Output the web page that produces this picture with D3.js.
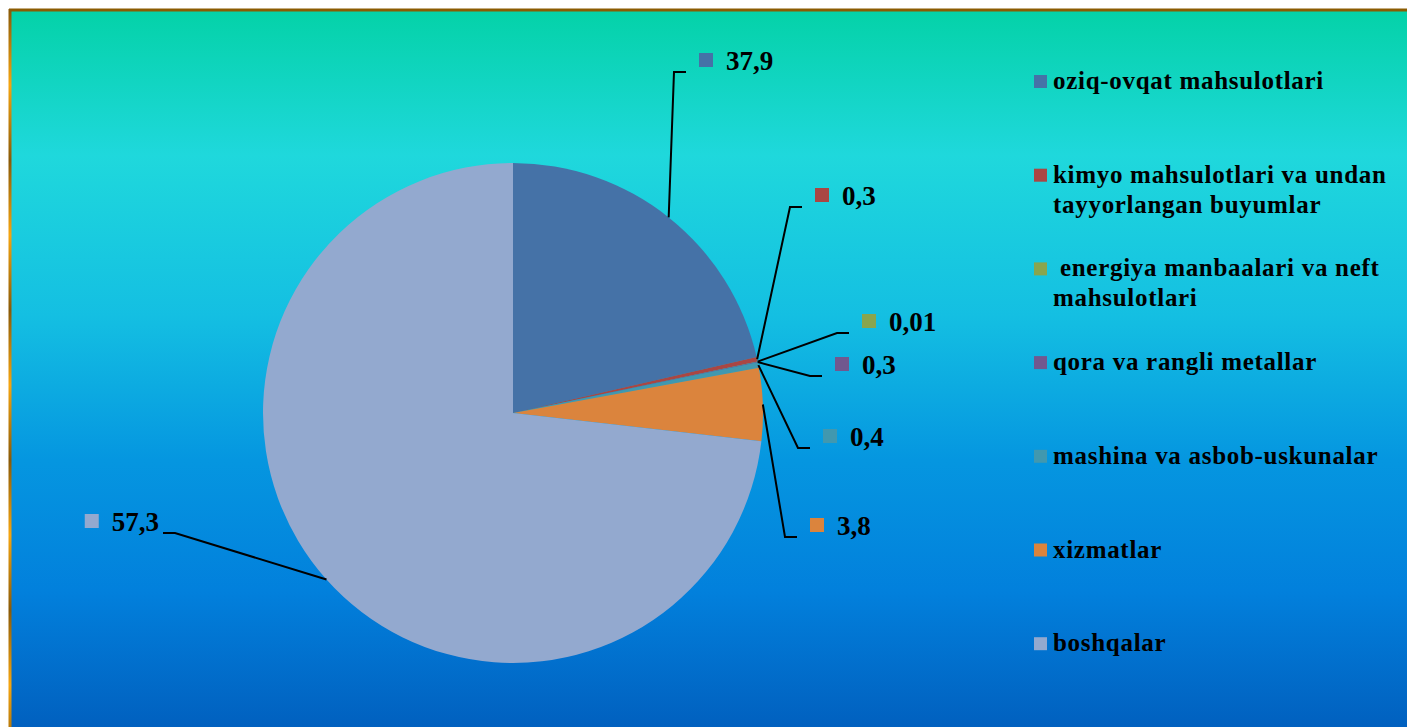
<!DOCTYPE html>
<html>
<head>
<meta charset="UTF-8">
<script type="text/javascript" src="https://cdnjs.cloudflare.com/ajax/libs/d3/7.8.5/d3.min.js"></script>
<title></title>
<style>
    body{ margin:0; background:#fff; }
    svg text{
        font-family: "Liberation Serif", "Times New Roman", serif;
        font-weight: bold;
        fill: #000;
        white-space: pre;
    }
</style>
</head>
<body>
<script type="text/javascript">
    // categories (legend lines already wrapped like the original)
    var legendLines = [
        ["oziq-ovqat mahsulotlari"],
        ["kimyo mahsulotlari va undan", "tayyorlangan buyumlar"],
        [" energiya manbaalari va neft", "mahsulotlari"],
        ["qora va rangli metallar"],
        ["mashina va asbob-uskunalar"],
        ["xizmatlar"],
        ["boshqalar"]
    ];
    // data labels as printed on the chart
    var labels = ["37,9", "0,3", "0,01", "0,3", "0,4", "3,8", "57,3"];
    // slice sizes as drawn in the picture (they do not follow the printed labels)
    var shares = [21.4, 0.3, 0.01, 0.05, 0.35, 4.7, 73.2];
    var colors = ["#4572a7", "#aa4643", "#89a54e", "#71588f", "#4198af", "#db843d", "#93a9cf"];

    var W = 1407, H = 727;
    var svg = d3.select("body").append("svg")
            .attr("width", W)
            .attr("height", H);

    var defs = svg.append("defs");
    var bg = defs.append("linearGradient").attr("id", "bg")
            .attr("x1", 0).attr("y1", 0).attr("x2", 0).attr("y2", 1);
    [[0, "#04d2a8"], [0.2, "#1fd8dc"], [0.42, "#14bfe2"], [0.62, "#0596e0"],
     [0.8, "#0280dc"], [1, "#015ebd"]].forEach(function(s){
        bg.append("stop").attr("offset", s[0]).attr("stop-color", s[1]);
    });
    var edge = defs.append("linearGradient").attr("id", "edge")
            .attr("gradientUnits", "userSpaceOnUse")
            .attr("x1", 0).attr("y1", 10).attr("x2", 0).attr("y2", 85)
            .attr("spreadMethod", "reflect");
    edge.append("stop").attr("offset", 0).attr("stop-color", "#8a5a08");
    edge.append("stop").attr("offset", 1).attr("stop-color", "#f5a510");

    // chart area
    svg.append("rect")
            .attr("x", 10).attr("y", 10)
            .attr("width", W).attr("height", H)
            .attr("fill", "url(#bg)");
    svg.append("line")
            .attr("x1", 9).attr("y1", 10).attr("x2", W).attr("y2", 10)
            .attr("stroke", "#8b5c02").attr("stroke-width", 3);
    svg.append("line")
            .attr("x1", 10).attr("y1", 9).attr("x2", 10).attr("y2", H)
            .attr("stroke", "url(#edge)").attr("stroke-width", 3);

    // pie
    var cx = 513, cy = 413, r = 250;
    var pie = d3.pie().sort(null).value(function(d){ return d; });
    var arcs = pie(shares);
    var arc = d3.arc().innerRadius(0).outerRadius(r);
    var rim = d3.arc().innerRadius(r).outerRadius(r);

    var g = svg.append("g").attr("transform", "translate(" + cx + "," + cy + ")");
    g.selectAll("path.slice").data(arcs).enter().append("path")
            .attr("class", "slice")
            .attr("d", arc)
            .attr("fill", function(d, i){ return colors[i]; });

    // leader line elbows, relative to the pie centre (hand placed labels)
    var elbows = [[161, -341], [277, -206], [324, -80], [297, -37], [285, 35], [272, 124], [-338, 120]];

    arcs.forEach(function(d, i){
        var p = rim.centroid(d);
        var e = elbows[i];
        var dir = e[0] < 0 ? -1 : 1;
        var end = e[0] + dir * 12;
        g.append("polyline")
                .attr("points", [p, e, [end, e[1]]].map(function(q){ return q.join(","); }).join(" "))
                .attr("fill", "none")
                .attr("stroke", "#000")
                .attr("stroke-width", 2);
        var t = g.append("text")
                .attr("y", e[1] - 2)
                .attr("font-size", 27)
                .text(labels[i]);
        if (dir > 0) {
            t.attr("x", e[0] + 52);
            g.append("rect")
                    .attr("x", e[0] + 25).attr("y", e[1] - 19)
                    .attr("width", 14).attr("height", 14)
                    .attr("fill", colors[i]);
        } else {
            t.attr("x", end - 4).attr("text-anchor", "end");
            var tw = t.node().getComputedTextLength();
            g.append("rect")
                    .attr("x", end - 4 - tw - 27).attr("y", e[1] - 19)
                    .attr("width", 14).attr("height", 14)
                    .attr("fill", colors[i]);
        }
    });

    // legend
    var lg = svg.append("g").attr("transform", "translate(1034,75)");
    var step = 93.7;
    legendLines.forEach(function(lines, i){
        var row = lg.append("g").attr("transform", "translate(0," + (i * step) + ")");
        row.append("rect")
                .attr("width", 13).attr("height", 13)
                .attr("fill", colors[i]);
        var t = row.append("text")
                .attr("x", 19).attr("y", 14)
                .attr("font-size", 25)
                .attr("letter-spacing", 0.7);
        lines.forEach(function(s, k){
            t.append("tspan").attr("x", 19).attr("y", 14 + k * 30).text(s);
        });
    });
</script>
</body>
</html>
